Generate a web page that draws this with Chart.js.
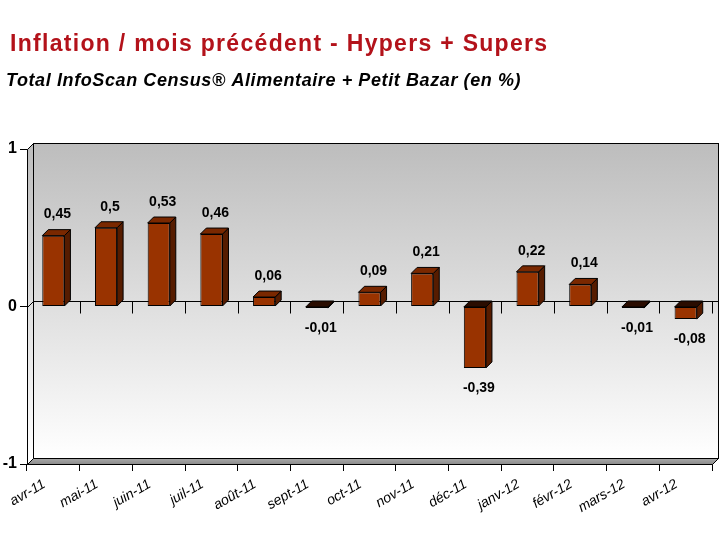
<!DOCTYPE html>
<html>
<head>
<meta charset="utf-8">
<script src="https://cdn.jsdelivr.net/npm/chart.js@4.4.1/dist/chart.umd.min.js"></script>
<style>
  html, body { margin: 0; padding: 0; background: #fff; }
  canvas { display: block; }
</style>
</head>
<body>
<canvas id="inflationChart" width="726" height="555"></canvas>
<script>
var months = ['avr-11', 'mai-11', 'juin-11', 'juil-11', 'août-11', 'sept-11', 'oct-11',
              'nov-11', 'déc-11', 'janv-12', 'févr-12', 'mars-12', 'avr-12'];
var inflation = [0.45, 0.5, 0.53, 0.46, 0.06, -0.01, 0.09, 0.21, -0.39, 0.22, 0.14, -0.01, -0.08];
var yTicks = [-1, 0, 1];
var titleText = 'Inflation / mois précédent - Hypers + Supers';
var subtitleText = 'Total InfoScan Census® Alimentaire + Petit Bazar (en %)';

// depth of the fake 3d
var DX = 6, DY = -6;
var FONT = "'Liberation Sans', Arial, sans-serif";

function poly(c, pts, fill) {
  c.beginPath();
  c.moveTo(pts[0][0], pts[0][1]);
  for (var i = 1; i < pts.length; i++) c.lineTo(pts[i][0], pts[i][1]);
  c.closePath();
  if (fill) { c.fillStyle = fill; c.fill(); }
  c.stroke();
}

function line(c, x1, y1, x2, y2) {
  c.beginPath();
  c.moveTo(x1, y1);
  c.lineTo(x2, y2);
  c.stroke();
}

// title + subtitle, drawn by hand so they can sit at their own left edge
var header = {
  id: 'header',
  afterDraw: function(chart) {
    var c = chart.ctx;
    c.save();
    c.textAlign = 'left';
    c.textBaseline = 'middle';
    c.fillStyle = '#b3121a';
    c.font = 'bold 23px ' + FONT;
    c.letterSpacing = '1.3px';
    c.fillText(titleText, 10, 45);
    c.fillStyle = '#000';
    c.font = 'italic bold 18px ' + FONT;
    c.letterSpacing = '0.6px';
    c.fillText(subtitleText, 6, 81);
    c.restore();
  }
};

var walls = {
  id: 'walls',
  beforeDatasetsDraw: function(chart) {
    var c = chart.ctx, a = chart.chartArea;
    var L = a.left + 0.5, R = a.right + 0.5, T = a.top + 0.5, B = a.bottom + 0.5;
    var zero = Math.round(chart.scales.y.getPixelForValue(0)) + 0.5;
    c.save();
    c.strokeStyle = '#000';
    c.lineWidth = 1;

    var g = c.createLinearGradient(0, T + DY, 0, B + DY);
    g.addColorStop(0, '#bdbdbd');
    g.addColorStop(1, '#ffffff');
    c.fillStyle = g;
    c.fillRect(L + DX, T + DY, R - L, B - T);
    c.strokeRect(L + DX, T + DY, R - L, B - T);

    // left wall
    poly(c, [[L, T], [L + DX, T + DY], [L + DX, B + DY], [L, B]], g);

    // floor
    var fg = c.createLinearGradient(0, B + DY, 0, B);
    fg.addColorStop(0, '#a8a8a8');
    fg.addColorStop(1, '#8a8a8a');
    poly(c, [[L, B], [L + DX, B + DY], [R + DX, B + DY], [R, B]], fg);

    // zero plane line with its ticks
    line(c, L, zero, L + DX, zero + DY);
    line(c, L + DX, zero + DY, R + DX, zero + DY);
    var n = months.length;
    for (var i = 0; i <= n; i++) {
      var px = Math.round(a.left + i * (a.right - a.left) / n) + 0.5;
      line(c, px, zero + DY, px, zero + 6);
    }
    c.restore();
  }
};

var bars3d = {
  id: 'bars3d',
  afterDatasetsDraw: function(chart) {
    var c = chart.ctx;
    var meta = chart.getDatasetMeta(0);
    c.save();
    c.strokeStyle = '#000';
    c.lineWidth = 1;
    meta.data.forEach(function(bar, i) {
      var p = bar.getProps(['x', 'y', 'base', 'width'], true);
      var l = p.x - p.width / 2, r = p.x + p.width / 2;
      var top = Math.min(p.y, p.base), bottom = Math.max(p.y, p.base);
      var v = inflation[i];
      poly(c, [[r, top], [r + DX, top + DY], [r + DX, bottom + DY], [r, bottom]], '#561c00');
      poly(c, [[l, top], [l + DX, top + DY], [r + DX, top + DY], [r, top]], v < 0 ? '#2a0c00' : '#7a2800');

      c.fillStyle = '#000';
      c.font = 'bold 14px ' + FONT;
      c.textAlign = 'center';
      c.textBaseline = 'middle';
      var txt = String(v).replace('.', ',');
      c.fillText(txt, p.x + 4, v < 0 ? p.y + 20 : p.y - 21);
    });
    c.restore();
  }
};

var ctx = document.getElementById('inflationChart').getContext('2d');
var myChart = new Chart(ctx, {
  type: 'bar',
  data: {
    labels: months,
    datasets: [{
      label: 'Inflation',
      data: inflation,
      backgroundColor: '#993300',
      borderColor: '#000',
      borderWidth: 1,
      borderSkipped: false,
      categoryPercentage: 1,
      barPercentage: 0.42
    }]
  },
  options: {
    responsive: false,
    devicePixelRatio: 1,
    animation: false,
    layout: { padding: { left: 0, right: 14, top: 149, bottom: 0 } },
    scales: {
      x: {
        grid: { display: true, drawOnChartArea: false, drawTicks: true, tickLength: 7, color: '#000', offset: true },
        border: { display: true, color: '#000' },
        ticks: {
          autoSkip: false,
          minRotation: 30,
          maxRotation: 30,
          padding: 5,
          labelOffset: -9,
          color: '#000',
          font: { family: FONT, size: 14, style: 'italic' }
        },
        afterFit: function(scale) { scale.height = 91; }
      },
      y: {
        min: -1,
        max: 1,
        grid: { display: true, drawOnChartArea: false, drawTicks: true, tickLength: 7, color: '#000' },
        border: { display: true, color: '#000' },
        ticks: {
          stepSize: 1,
          padding: 3,
          color: '#000',
          font: { family: FONT, size: 16, weight: 'bold' },
          callback: function(v) { return yTicks.indexOf(v) >= 0 ? String(v) : ''; }
        },
        afterFit: function(scale) { scale.width = 27; }
      }
    },
    plugins: {
      legend: { display: false },
      tooltip: { enabled: false },
      title: { display: false },
      subtitle: { display: false }
    }
  },
  plugins: [walls, bars3d, header]
});
</script>
</body>
</html>
